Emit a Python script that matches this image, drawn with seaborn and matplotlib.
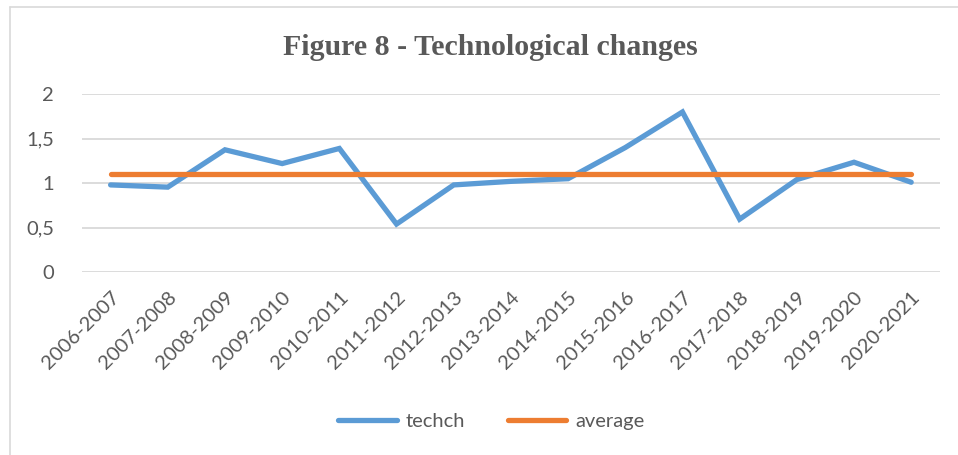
import matplotlib
matplotlib.use('Agg')
import matplotlib.pyplot as plt
import seaborn as sns
import pandas as pd
from matplotlib.lines import Line2D

# values
periods = ['2006-2007', '2007-2008', '2008-2009', '2009-2010', '2010-2011',
           '2011-2012', '2012-2013', '2013-2014', '2014-2015', '2015-2016',
           '2016-2017', '2017-2018', '2018-2019', '2019-2020', '2020-2021']
techch = [0.98, 0.955, 1.375, 1.22, 1.39, 0.54, 0.98, 1.02, 1.05, 1.40,
          1.80, 0.595, 1.04, 1.235, 1.01]
average = [1.10] * len(periods)

df = pd.DataFrame({'period': periods * 2,
                   'value': techch + average,
                   'series': ['techch'] * len(periods) + ['average'] * len(periods)})
df['x'] = list(range(len(periods))) * 2

sns.set_theme(style='white')
plt.rcParams['font.family'] = ['Lato', 'DejaVu Sans']

fig = plt.figure(figsize=(9.58, 4.55), dpi=100)
ax = fig.add_axes([0.0856, 0.402, 0.8954, 0.391])

sns.lineplot(data=df, x='x', y='value', hue='series',
             palette={'techch': '#5B9BD5', 'average': '#ED7D31'},
             linewidth=3.8, ax=ax, legend=False)
for l in ax.lines:
    l.set_solid_capstyle('round')
    l.set_solid_joinstyle('miter')

ax.set_xlim(-0.5, len(periods) - 0.5)
ax.set_ylim(0, 2)
ax.set_yticks([0, 0.5, 1, 1.5, 2])
ax.set_yticklabels(['0', '0,5', '1', '1,5', '2'])
ax.set_xticks(range(len(periods)))
ax.set_xticklabels(periods, rotation=45, ha='right', rotation_mode='anchor')
ax.tick_params(axis='both', length=0, labelsize=14.5, colors='#595959')
ax.tick_params(axis='x', pad=12)
ax.tick_params(axis='y', pad=20)
ax.grid(axis='y', color='#D9D9D9', linewidth=1.3)
ax.set_axisbelow(True)
for s in ax.spines.values():
    s.set_visible(False)
ax.set_xlabel('')
ax.set_ylabel('')

fig.text(0.512, 0.895, 'Figure 8 - Technological changes', ha='center', va='center',
         fontsize=21.5, fontweight='bold', color='#595959', family='Liberation Serif')

handles = [Line2D([], [], color='#5B9BD5', linewidth=3.8, solid_capstyle='round'),
           Line2D([], [], color='#ED7D31', linewidth=3.8, solid_capstyle='round')]
fig.legend(handles, ['techch', 'average'], loc='center', bbox_to_anchor=(0.513, 0.073),
           ncol=2, frameon=False, fontsize=14.5, labelcolor='#595959',
           handlelength=2.9, handletextpad=0.45, columnspacing=2.1)

# outer chart border (top and left visible in reference)
fig.add_artist(Line2D([10 / 958, 10 / 958], [0, 1 - 7 / 455], color='#D9D9D9', linewidth=1.2))
fig.add_artist(Line2D([10 / 958, 1], [1 - 7 / 455, 1 - 7 / 455], color='#D9D9D9', linewidth=1.2))

fig.savefig('out.png', dpi=100)
